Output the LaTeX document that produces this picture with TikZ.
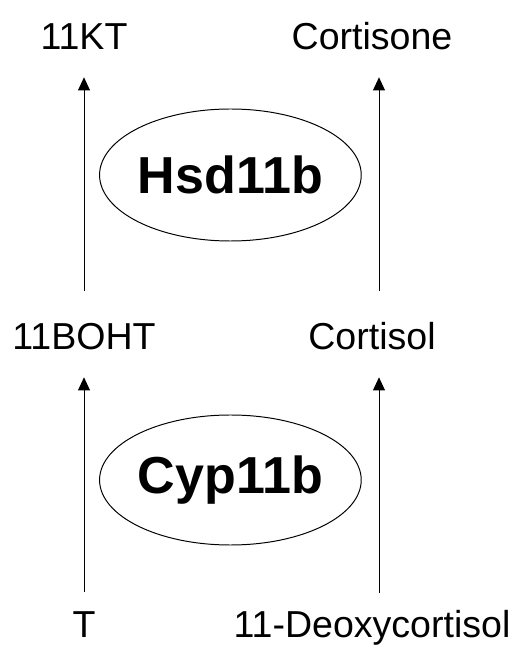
\documentclass[tikz,border=0pt]{standalone}
\usepackage{fontspec}
\setmainfont{Liberation Sans}
\usetikzlibrary{shapes.geometric,arrows.meta}
\tikzset{
  steroid/.style={inner sep=0pt,anchor=base,text height=0.67cm,text depth=0cm,font=\fontsize{26.7}{32}\selectfont},
  enzyme/.style={shape=ellipse,draw,line width=0.7pt,inner sep=0pt,minimum width=6.125cm,minimum height=3.3cm,font=\bfseries\fontsize{37}{44}\selectfont},
  conv/.style={line width=0.7pt,-{Triangle[length=0.33cm,width=0.3cm]},shorten <=0.8cm,shorten >=0.675cm}
}
\begin{document}
\begin{tikzpicture}
    \useasboundingbox (0,0) rectangle (13.275,16.125);
    % steroids
    \node[steroid] (kt)        at (2.1,14.875) {11KT};
    \node[steroid] (cortisone) at (9.3,14.875) {Cortisone};
    \node[steroid] (boht)      at (2.1,7.375)  {11BOHT};
    \node[steroid] (cortisol)  at (9.3,7.375)  {Cortisol};
    \node[steroid] (t)         at (2.1,0.2)    {T};
    \node[steroid] (deoxy)     at (9.3,0.2)    {11-Deoxycortisol};
    % enzymes
    \node[enzyme] (hsd) at (5.76,11.75) {Hsd11b};
    \node[enzyme,minimum height=3.25cm] (cyp) at (5.76,4.125) {Cyp11b};
    % conversions
    \draw[conv,shorten <=0.45cm] (t.north) -- (boht.south);
    \draw[conv] (boht.north) -- (kt.south);
    \draw[conv,shorten <=0.43cm] ([xshift=0.175cm]deoxy.north) -- ([xshift=0.175cm]cortisol.south);
    \draw[conv] ([xshift=0.175cm]cortisol.north) -- ([xshift=0.175cm]cortisone.south);
\end{tikzpicture}
\end{document}
